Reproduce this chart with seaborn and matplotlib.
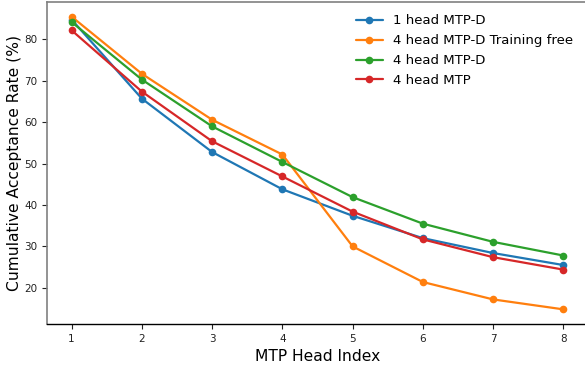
import matplotlib
matplotlib.use("Agg")
import matplotlib.pyplot as plt
import seaborn as sns
import pandas as pd

heads = [1, 2, 3, 4, 5, 6, 7, 8]
one_head_mtp_d = [84.8, 65.7, 52.8, 43.8, 37.4, 32.0, 28.4, 25.5]
four_head_mtp_d_training_free = [85.5, 71.7, 60.6, 52.2, 30.0, 21.4, 17.2, 14.8]
four_head_mtp_d = [84.2, 70.3, 59.0, 50.4, 41.9, 35.5, 31.1, 27.8]
four_head_mtp = [82.2, 67.4, 55.4, 46.9, 38.4, 31.7, 27.4, 24.4]

series_names = ["1 head MTP-D", "4 head MTP-D Training free", "4 head MTP-D", "4 head MTP"]
series_values = [one_head_mtp_d, four_head_mtp_d_training_free, four_head_mtp_d, four_head_mtp]

rows = []
for name, vals in zip(series_names, series_values):
    for h, v in zip(heads, vals):
        rows.append({"head": h, "rate": v, "method": name})
df = pd.DataFrame(rows)

sns.set_style("white")
plt.rcParams["font.family"] = ["DejaVu Sans"]
plt.rcParams["text.color"] = "black"
plt.rcParams["axes.labelcolor"] = "black"
plt.rcParams["xtick.color"] = "#222222"
plt.rcParams["ytick.color"] = "#222222"

fig = plt.figure(figsize=(5.85, 3.68), dpi=100)
ax = fig.add_axes([47 / 585, 1 - 324 / 368, 541 / 585, 322 / 368])

palette = ["#1f77b4", "#ff7f0e", "#2ca02c", "#d62728"]
for name, color in zip(series_names, palette):
    sub = df[df["method"] == name]
    sns.lineplot(data=sub, x="head", y="rate", ax=ax, color=color, marker="o",
                 markersize=5.5, markeredgewidth=0, linewidth=1.6, label=name)

ax.margins(x=0.05, y=0.05)
ax.set_xticks(heads)
ax.set_yticks([20, 30, 40, 50, 60, 70, 80])
ax.tick_params(axis="both", labelsize=7.5, length=3.5, width=0.8,
               bottom=True, left=True)
ax.set_xlabel("MTP Head Index", fontsize=11.2, labelpad=4)
ax.set_ylabel("Cumulative Acceptance Rate (%)", fontsize=11.2, labelpad=1.5)

for side in ["left", "top"]:
    ax.spines[side].set_color("#808080")
    ax.spines[side].set_linewidth(1.2)
ax.spines["bottom"].set_color("black")
ax.spines["bottom"].set_linewidth(1.0)
ax.spines["right"].set_visible(False)

ax.legend(loc="upper right", frameon=False, fontsize=9.5, handlelength=2.0,
          borderaxespad=0.3, labelspacing=0.52, bbox_to_anchor=(0.99, 0.99))

fig.savefig("out.png", dpi=100)
